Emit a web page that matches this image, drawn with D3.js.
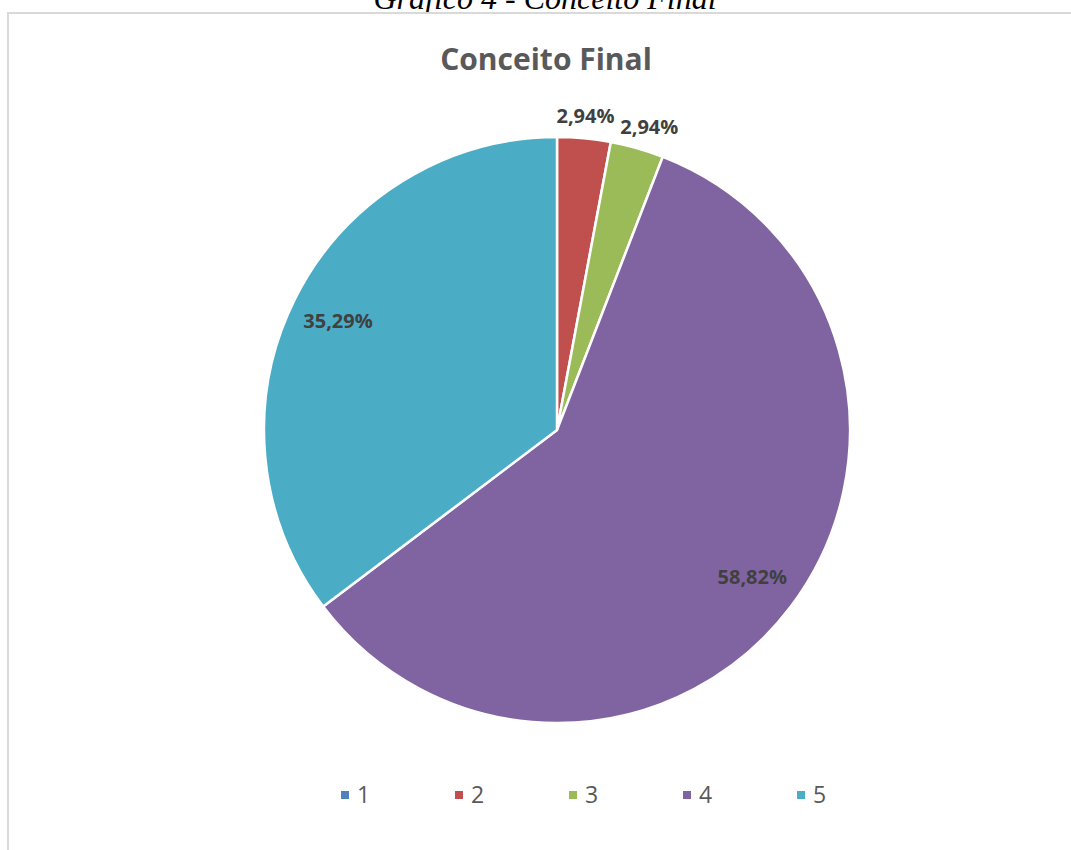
<!DOCTYPE html>
<html lang="pt">
<head>
    <meta charset="utf-8">
    <title>Conceito Final</title>
    <script src="https://d3js.org/d3.v7.min.js"></script>
    <style>
        body { margin: 0; background: #fff; }
        svg { display: block; }
        text { font-family: "Open Sans", "Noto Sans", sans-serif; }
    </style>
</head>
<body>
<svg id="chart"></svg>
<script>
    // data
    const categories = ["1", "2", "3", "4", "5"];
    const values = [0, 2.94, 2.94, 58.82, 35.29];
    const labels = ["0,00%", "2,94%", "2,94%", "58,82%", "35,29%"];
    const colors = ["#4F81BD", "#C0504D", "#9BBB59", "#8064A2", "#4BACC6"];

    let width = 1071,
        height = 850,
        cx = 557, cy = 430,
        radius = 293;

    let svg = d3.select("#chart")
        .attr("width", width)
        .attr("height", height);

    // caption from the document (cut off at the top in the original too)
    svg.append("text")
        .attr("x", 545)
        .attr("y", 9)
        .attr("text-anchor", "middle")
        .style("font-family", "'Liberation Serif', 'DejaVu Serif', serif")
        .style("font-style", "italic")
        .style("font-size", "32px")
        .attr("fill", "#000")
        .text("Gráfico 4 - Conceito Final");

    // chart frame
    svg.append("rect")
        .attr("x", 8).attr("y", 13)
        .attr("width", width).attr("height", height)
        .attr("fill", "#fff")
        .attr("stroke", "#d9d9d9")
        .attr("stroke-width", 2);

    svg.append("text")
        .attr("x", 546)
        .attr("y", 70)
        .attr("text-anchor", "middle")
        .style("font-size", "30px")
        .style("font-weight", "bold")
        .attr("fill", "#595959")
        .text("Conceito Final");

    let color = d3.scaleOrdinal().domain(categories).range(colors);

    let table = categories.map((c, i) => ({cat: c, value: values[i], label: labels[i]}));

    let pie = d3.pie()
        .sort(null)
        .value(d => d.value);

    let arcs = pie(table);
    let arc = d3.arc().innerRadius(0).outerRadius(radius);

    let g = svg.append("g")
        .attr("transform", `translate(${cx},${cy})`);

    g.selectAll("path")
        .data(arcs.filter(d => d.data.value > 0))
        .enter().append("path")
            .attr("d", arc)
            .attr("fill", d => color(d.data.cat))
            .attr("stroke", "#fff")
            .attr("stroke-width", 2.5)
            .attr("stroke-linejoin", "round");

    // big slices get labels inside, small ones outside
    let inner = d3.arc().innerRadius(radius * 0.835).outerRadius(radius * 0.835);
    let outer = d3.arc().innerRadius(radius + 24).outerRadius(radius + 24);

    g.selectAll("text.lbl")
        .data(arcs.filter(d => d.data.value > 0))
        .enter().append("text")
            .attr("class", "lbl")
            .attr("transform", d => {
                if (d.data.value < 10) {
                    let p = outer.centroid(d);
                    let mid = (d.startAngle + d.endAngle) / 2;
                    // push outside labels sideways so they don't run into each other
                    return `translate(${p[0] + Math.sin(mid) * 35 - 4},${p[1] + 2})`;
                }
                let p = inner.centroid(d);
                return `translate(${p[0]},${p[1]})`;
            })
            .attr("text-anchor", "middle")
            .attr("dy", "0.35em")
            .style("font-size", "20px")
            .style("font-weight", "bold")
            .attr("fill", "#404040")
            .text(d => d.data.label);

    // legend
    let lx = d3.scalePoint().domain(categories).range([341, 797]);

    let legend = svg.append("g").selectAll("g")
        .data(categories)
        .enter().append("g")
            .attr("transform", d => `translate(${lx(d)},791)`);

    legend.append("rect")
        .attr("width", 8).attr("height", 8)
        .attr("fill", d => color(d));

    legend.append("text")
        .attr("x", 16)
        .attr("y", 12)
        .style("font-size", "23px")
        .attr("fill", "#595959")
        .text(d => d);
</script>
</body>
</html>
